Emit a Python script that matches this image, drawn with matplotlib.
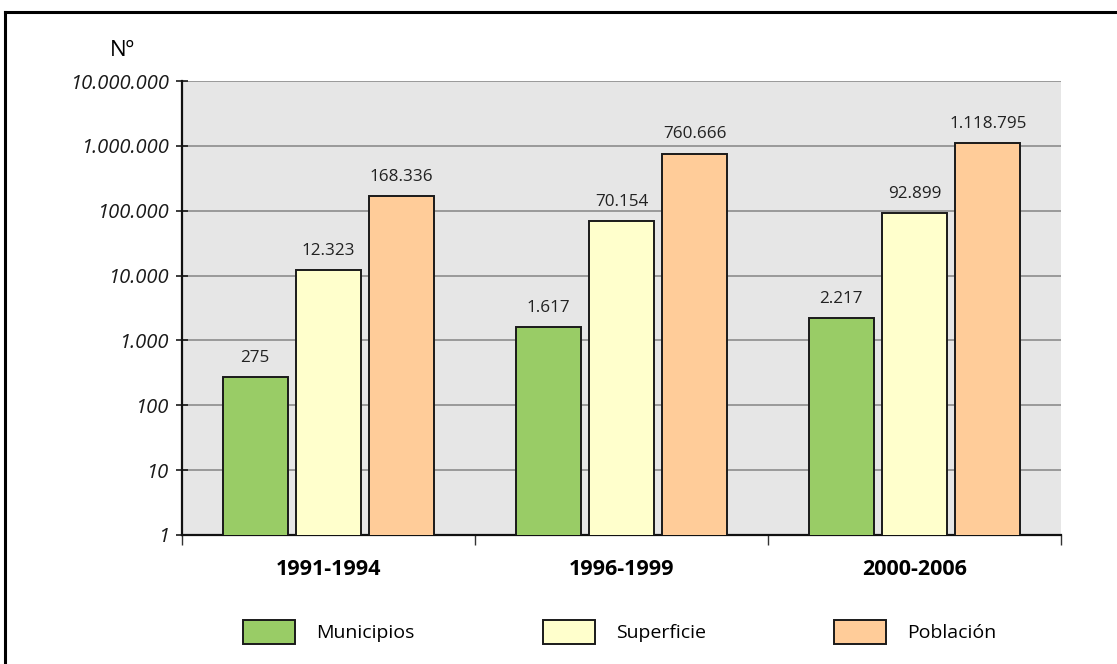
import numpy as np
import matplotlib
matplotlib.use("Agg")
from matplotlib import pyplot as plt
from matplotlib.lines import Line2D
from matplotlib.ticker import FixedLocator, FuncFormatter

plt.rcParams['font.family'] = ['Open Sans', 'DejaVu Sans']

periods = ['1991-1994', '1996-1999', '2000-2006']
series_names = ['Municipios', 'Superficie', 'Población']
municipios = [275, 1617, 2217]
superficie = [12323, 70154, 92899]
poblacion = [168336, 760666, 1118795]
colors = ['#99CC66', '#FFFFCC', '#FFCC99']
y_label = 'Nº'


def thousands(v):
    return f"{int(v):,}".replace(",", ".")


fig = plt.figure(figsize=(11.17, 6.64), dpi=100)
ax = fig.add_axes([0.1629, 0.1943, 0.7870, 0.6837])
ax.set_facecolor('#E6E6E6')

x = np.arange(len(periods))
width = 0.222
offsets = [-0.25, 0.0, 0.25]
for vals, name, col, off in zip([municipios, superficie, poblacion], series_names, colors, offsets):
    bars = ax.bar(x + off, vals, width, color=col, edgecolor='#1a1a1a', linewidth=1.4,
                  label=name, zorder=3)
    for b, v in zip(bars, vals):
        ax.annotate(thousands(v), (b.get_x() + b.get_width() / 2, v),
                    xytext=(0, 8), textcoords='offset points',
                    ha='center', va='bottom', fontsize=12.3, color='#222222')

ax.set_yscale('log')
ax.set_ylim(1, 1e7)
ax.set_xlim(-0.5, 2.5)
ax.yaxis.set_major_locator(FixedLocator([10 ** k for k in range(8)]))
ax.yaxis.set_minor_locator(FixedLocator([]))
ax.yaxis.set_major_formatter(FuncFormatter(lambda v, p: thousands(v)))
for lbl in ax.get_yticklabels():
    lbl.set_fontstyle('italic')
ax.tick_params(axis='y', direction='inout', length=9, width=1.2, pad=5,
               labelsize=14.5, colors='#1a1a1a')
ax.grid(axis='y', color='#8c8c8c', linewidth=1.2, zorder=0)

ax.xaxis.set_major_locator(FixedLocator([-0.5, 0.5, 1.5, 2.5]))
ax.xaxis.set_major_formatter(FuncFormatter(lambda v, p: ''))
ax.xaxis.set_minor_locator(FixedLocator(list(x)))
ax.set_xticklabels(periods, minor=True)
ax.tick_params(axis='x', which='major', direction='out', length=7, width=1.0, color='#333333')
ax.tick_params(axis='x', which='minor', length=0, pad=17, labelsize=15.5)
for lbl in ax.get_xticklabels(minor=True):
    lbl.set_fontweight('bold')

for s in ['top', 'right']:
    ax.spines[s].set_visible(False)
for s in ['left', 'bottom']:
    ax.spines[s].set_linewidth(1.6)
    ax.spines[s].set_color('#111111')

fig.text(122 / 1117, 1 - 51 / 664, y_label, ha='center', va='center', fontsize=16)

fig.legend(loc='center', bbox_to_anchor=(0.555, 1 - 632 / 664), ncol=3, frameon=False,
           fontsize=14, handlelength=2.65, handleheight=1.45, handletextpad=1.1,
           columnspacing=6.6)

# outer frame
fig.add_artist(Line2D([5 / 1117, 5 / 1117], [1 - 12 / 664, 0], transform=fig.transFigure,
                      color='black', linewidth=2.2))
fig.add_artist(Line2D([5 / 1117, 1.0], [1 - 12 / 664, 1 - 12 / 664], transform=fig.transFigure,
                      color='black', linewidth=2.2))

fig.savefig('out.png', dpi=100)
